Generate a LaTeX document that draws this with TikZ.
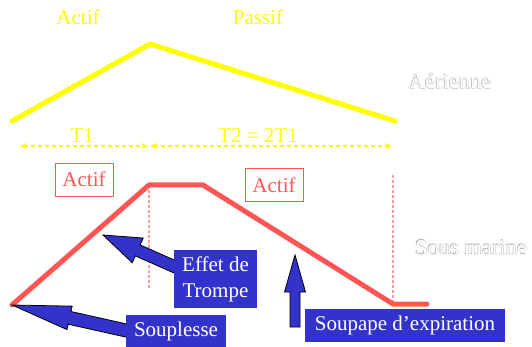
\documentclass[tikz,border=0pt]{standalone}
\usepackage{fontspec}
\setmainfont{Liberation Serif}
\usetikzlibrary{arrows.meta}

\definecolor{airyellow}{RGB}{255,255,0}
\definecolor{seared}{RGB}{255,85,85}
\definecolor{dashred}{RGB}{255,155,155}
\definecolor{boxblue}{RGB}{51,51,204}

% block arrow: tip, angle, length, head length, head half width, shaft half width
\newcommand{\blockarrow}[6]{%
  \draw[fill=boxblue, line width=0.8pt, shift={(#1)}, rotate=#2]
    (0,0) -- (#4,-#5) -- (#4,-#6) -- (#3,-#6) -- (#3,#6) -- (#4,#6) -- (#4,#5) -- cycle;}

\begin{document}
\begin{tikzpicture}[x=1pt,y=-1pt,
    phase/.style={text=airyellow, anchor=base, font=\rmfamily\fontsize{21}{25}\selectfont},
    redbox/.style={draw=seared, text=seared, line width=0.8pt, minimum width=58pt,
      minimum height=33pt, inner sep=0pt, font=\rmfamily\fontsize{21}{25}\selectfont},
    bluebox/.style={fill=boxblue, text=white, inner sep=0pt, align=center,
      minimum height=33pt, font=\rmfamily\fontsize{21}{26}\selectfont},
    engraved/.style={anchor=base, font=\rmfamily\fontsize{22.5}{27}\selectfont},
    timeline/.style={airyellow, line width=1.3pt, dash pattern=on 4pt off 3pt,
      {Stealth[length=7pt,width=6pt]}-{Stealth[length=7pt,width=6pt]}},
    tick/.style={dashred, line width=1.2pt, dash pattern=on 3pt off 2pt}]
  \useasboundingbox (0,0) rectangle (532,347);

  % Coordinates of the air curve
  \coordinate (aStart) at (12,121);
  \coordinate (aPeak) at (150,44);
  \coordinate (aEnd) at (395,121);
  \draw[airyellow, line width=5pt, line cap=round, line join=round] (aStart) -- (aPeak) -- (aEnd);
  \node[phase] (actA) at (78,25) {Actif};
  \node[phase] (passA) at (258,25) {Passif};

  % Time spans
  \coordinate (tA) at (20,146);
  \coordinate (tB) at (148,146);
  \coordinate (tC) at (150,146);
  \coordinate (tD) at (392,146);
  \draw[timeline] (tA) -- (tB);
  \draw[timeline] (tC) -- (tD);
  \node[phase] (tone) at (82,143) {T1};
  \node[phase] (ttwo) at (258,143) {T2 = 2T1};

  % Coordinates of the underwater curve
  \coordinate (sStart) at (12,305);
  \coordinate (sTop) at (149,185);
  \coordinate (sTopEnd) at (203,185);
  \coordinate (sLow) at (393,304);
  \coordinate (sEnd) at (427,304);
  \coordinate (tFoot) at (149,288);
  \coordinate (tHead) at (393,175);
  \draw[tick] (sTop) -- (tFoot);
  \draw[tick] (tHead) -- (sLow);
  \draw[seared, line width=5pt, line cap=round, line join=round]
    (sStart) -- (sTop) -- (sTopEnd) -- (sLow) -- (sEnd);
  \node[redbox] (actS) at (84,179.5) {Actif};
  \node[redbox] (actT) at (274,185) {Actif};

  % Labels on the right
  \node[engraved, text=gray!35] (airT) at (450.7,89.7) {Aérienne};
  \node[engraved, text=gray!65] (airS) at (449.3,88.3) {Aérienne};
  \node[engraved, text=white] (air) at (450,89) {Aérienne};
  \node[engraved, text=gray!35] (subT) at (471.7,255.7) {Sous marine};
  \node[engraved, text=gray!65] (subS) at (470.3,254.3) {Sous marine};
  \node[engraved, text=white] (sub) at (471,255) {Sous marine};

  % Arrows and their boxes
  \coordinate (tipEffet) at (103,235);
  \coordinate (tipSouple) at (12,305);
  \coordinate (tipSoupape) at (295,255);
  \blockarrow{tipEffet}{-23.9}{80}{38}{13.5}{6}
  \blockarrow{tipSouple}{-12.6}{120}{59}{12}{6.5}
  \blockarrow{tipSoupape}{-90}{72}{37}{10.5}{5}
  \node[bluebox, minimum width=83pt, minimum height=58pt] (effet) at (215.5,279) {Effet de\\Trompe};
  \node[bluebox, minimum width=100pt] (souple) at (176,331.5) {Souplesse};
  \node[bluebox, minimum width=200pt] (soupape) at (405,325.5) {Soupape d’expiration};
\end{tikzpicture}
\end{document}
